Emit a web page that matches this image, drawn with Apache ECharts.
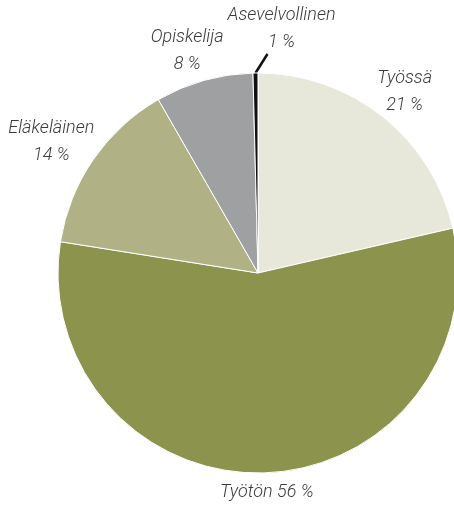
<!DOCTYPE html>
<html>
<head>
<meta charset="utf-8">
<script src="https://cdn.jsdelivr.net/npm/echarts@6/dist/echarts.min.js"></script>
<style>
  html, body { margin: 0; padding: 0; background: #fff; }
  #chart { width: 454px; height: 509px; }
</style>
</head>
<body>
<div id="chart"></div>
<script>
// data (share of each group, %)
const categories = ['Työssä', 'Työtön', 'Eläkeläinen', 'Opiskelija', 'Asevelvollinen']
const shares = [21.4, 56.1, 14.2, 7.9, 0.4]
const shareLabels = ['21 %', '56 %', '14 %', '8 %', '1 %']
const colors = ['#e7e8d9', '#8b934c', '#b0b286', '#9fa0a2', '#111111']

const cx = 258
const cy = 273
const radius = 200
const labelFont = 'italic 300 18px Roboto'

const total = shares.reduce((a, b) => a + b, 0)
// mid angle of each slice, clockwise from 12 o'clock (radians)
const midAngles = []
let acc = 0
shares.forEach((v) => {
  midAngles.push(((acc + v / 2) / total) * Math.PI * 2)
  acc += v
})

const measureCtx = document.createElement('canvas').getContext('2d')
measureCtx.font = labelFont
const textWidth = (t) =>
  Math.max(...t.split('\n').map((line) => measureCtx.measureText(line).width))
const labelText = (i) =>
  i === 1 ? categories[i] + ' ' + shareLabels[i] : categories[i] + '\n' + shareLabels[i]

// label box centre: anchor just outside the rim, box pushed away from it
const labelBox = (i, w, h) => {
  const a = midAngles[i]
  const s = Math.sin(a)
  const c = Math.cos(a)
  const tiny = shares[i] < 2
  const r = radius + (tiny ? 21 : 8)
  const box = {
    x: cx + r * s + s * w / 2,
    y: cy - r * c - c * h / 2,
    w: w,
    h: h,
  }
  if (tiny) box.x += 27
  return box
}

const chart = echarts.init(document.getElementById('chart'))

const option = {
  backgroundColor: '#fff',
  animation: false,
  series: [
    {
      type: 'pie',
      center: [cx, cy],
      radius: radius,
      startAngle: 90,
      clockwise: true,
      avoidLabelOverlap: false,
      itemStyle: { borderColor: '#fff', borderWidth: 1 },
      label: {
        show: true,
        position: 'outside',
        fontFamily: 'Roboto',
        fontStyle: 'italic',
        fontWeight: 300,
        fontSize: 18,
        color: '#3a3a3a',
        lineHeight: 27,
        align: 'center',
        formatter: (p) => labelText(p.dataIndex),
      },
      labelLine: { show: false },
      labelLayout: (params) => {
        const i = params.dataIndex
        const h = params.labelRect.height * 0.85
        const box = labelBox(i, params.labelRect.width, h)
        // keep clear of the small slice's label (it sits above the pie)
        const t = shares.findIndex((v) => v < 2)
        if (t >= 0 && t !== i) {
          const lines = labelText(t).split('\n').length
          const tb = labelBox(t, textWidth(labelText(t)), 27 * lines * 0.85)
          const overlapY = Math.abs(box.y - tb.y) < (box.h + tb.h) / 2
          const right = box.x + box.w / 2
          const limit = tb.x - tb.w / 2 - 4
          if (overlapY && right > limit && box.x < tb.x) box.x -= right - limit
        }
        const out = { x: box.x, y: box.y, align: 'center', verticalAlign: 'middle' }
        if (shares[i] < 2) {
          const a = midAngles[i]
          const x0 = cx + radius * Math.sin(a)
          const y0 = cy - radius * Math.cos(a)
          out.labelLinePoints = [[x0, y0], [x0, y0], [x0 + 12, y0 - 19]]
        }
        return out
      },
      data: categories.map((name, i) => ({
        name: name,
        value: shares[i],
        itemStyle: { color: colors[i] },
        labelLine: shares[i] < 2
          ? { show: true, lineStyle: { color: '#111', width: 2.5 } }
          : { show: false },
      })),
    },
  ],
}

chart.setOption(option)
</script>
</body>
</html>
